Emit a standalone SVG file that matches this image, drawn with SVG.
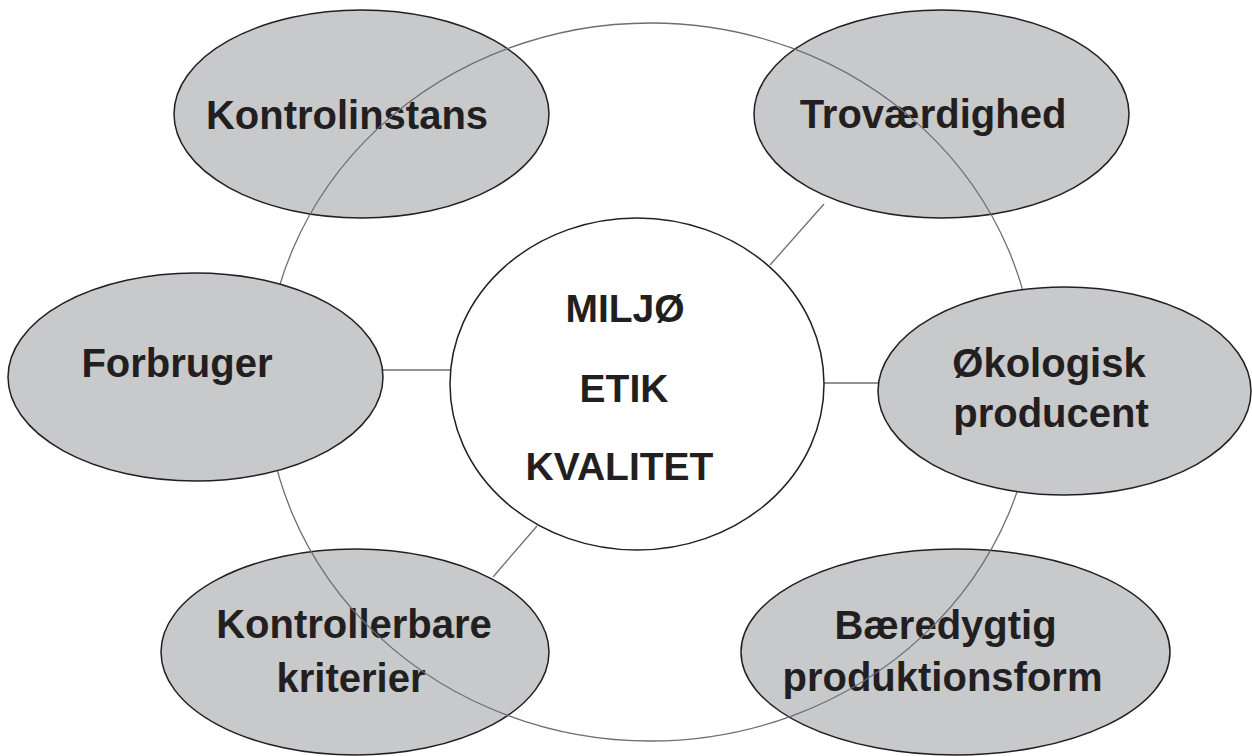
<svg xmlns="http://www.w3.org/2000/svg" width="1252" height="756" viewBox="0 0 1252 756">
<style>
.bg{fill:#ffffff}
.node ellipse{fill:#c8c9cb;stroke:#231f20;stroke-width:1.5}
.center ellipse{fill:#ffffff;stroke:#231f20;stroke-width:1.5}
.ring{fill:none;stroke:#6d6e70;stroke-width:1.3}
.conn line{stroke:#6d6e70;stroke-width:1.3}
text{font-family:"Liberation Sans",Arial,sans-serif;font-weight:bold;font-size:40px;fill:#231f20;text-anchor:middle}
.c text{font-size:39px}
</style>
<rect class="bg" x="0" y="0" width="1252" height="756"/>
<g id="connectors" class="conn">
<line x1="383" y1="370" x2="450" y2="370"/>
<line x1="824" y1="383" x2="878" y2="383"/>
<line x1="824" y1="204" x2="770" y2="265"/>
<line x1="537" y1="526" x2="493" y2="577"/>
</g>
<g id="kontrolinstans" class="node">
<ellipse cx="361.5" cy="114" rx="187.5" ry="104"/>
<text x="347" y="129">Kontrolinstans</text>
</g>
<g id="trovaerdighed" class="node">
<ellipse cx="941.5" cy="114" rx="187.5" ry="104"/>
<text x="933" y="128">Troværdighed</text>
</g>
<g id="kontrollerbare" class="node">
<ellipse cx="355" cy="652" rx="194" ry="103"/>
<text x="354" y="638">Kontrollerbare</text>
<text x="351" y="692">kriterier</text>
</g>
<g id="baeredygtig" class="node">
<ellipse cx="955.5" cy="652" rx="214.5" ry="103"/>
<text x="945.5" y="639">Bæredygtig</text>
<text x="942.5" y="691">produktionsform</text>
</g>
<ellipse id="ring" class="ring" cx="650.5" cy="382" rx="385" ry="359"/>
<g id="forbruger" class="node">
<ellipse cx="195.5" cy="377" rx="187.5" ry="104"/>
<text x="177" y="377">Forbruger</text>
</g>
<g id="okologisk" class="node">
<ellipse cx="1064.5" cy="391" rx="186.5" ry="104"/>
<text x="1049" y="377">Økologisk</text>
<text x="1051" y="427">producent</text>
</g>
<g id="center" class="center c">
<ellipse cx="637" cy="384" rx="187" ry="166"/>
<text x="625" y="322">MILJØ</text>
<text x="624" y="402">ETIK</text>
<text x="619.5" y="480">KVALITET</text>
</g>
</svg>
